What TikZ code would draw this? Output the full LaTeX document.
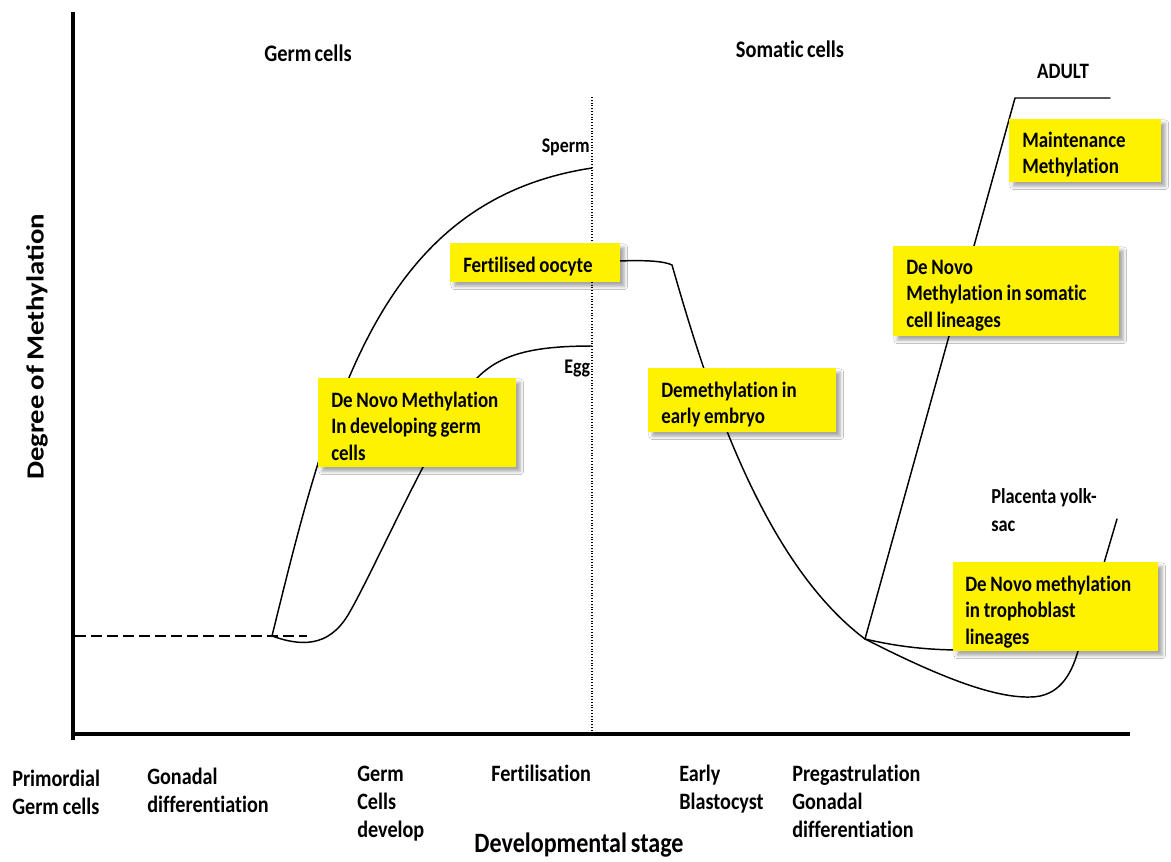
\documentclass[tikz,border=0pt]{standalone}
\usepackage{fontspec}
\setmainfont{Carlito}[FakeStretch=0.86, WordSpace=0.72, Ligatures={NoCommon}]
\newfontfamily\yfam{Carlito}[WordSpace=0.8]
\usetikzlibrary{shadows.blur}
\tikzset{
  curve/.style={line width=1.1pt, line cap=round, line join=round},
  axisline/.style={line width=2.3pt},
  ybox/.style={fill=yellow, draw=none, inner sep=0pt, anchor=north west,
    blur shadow={shadow xshift=3pt, shadow yshift=-3pt, shadow blur radius=2.5pt, shadow opacity=35}},
  tightsp/.style={execute at begin node={\spaceskip=0.17em\relax}},
  lab/.style={anchor=base west, inner sep=0pt, align=left, text width=200pt, tightsp,
    font=\fontsize{17.6}{21}\selectfont\bfseries},
  boxtxt/.style={anchor=base west, inner sep=0pt, align=left, text width=200pt, tightsp,
    font=\fontsize{16.5}{20}\selectfont\bfseries},
  toplab/.style={anchor=base, inner sep=0pt, font=\fontsize{17.8}{21}\selectfont\bfseries},
  smalllab/.style={inner sep=0pt, font=\fontsize{15.6}{19}\selectfont\bfseries},
}
\begin{document}
\begin{tikzpicture}[x=0.75pt, y=-0.75pt]
\fill[white] (0,0) rectangle (1171,861);
\useasboundingbox (0,0) rectangle (1171,861);

% axes
\coordinate (ytop) at (73,12);
\coordinate (ybot) at (73,740);
\coordinate (xl) at (72,734);
\coordinate (xr) at (1130,734);
\draw[axisline] (ytop) -- (ybot);
\draw[axisline] (xl) -- (xr);

% dashed baseline
\coordinate (dl) at (75,636);
\coordinate (dr) at (307,636);
\draw[line width=1pt, dash pattern=on 8pt off 4pt] (dl) -- (dr);

% dotted fertilisation line
\coordinate (ft) at (592,97);
\coordinate (fb) at (592,734);
\draw[line width=0.9pt, dash pattern=on 0.8pt off 1.3pt] (ft) -- (fb);

% germ cell curves
\coordinate (o) at (272,636);
\coordinate (sp) at (592,168);
\coordinate (eg) at (592,346);
\draw[curve] (o) .. controls (330,400) and (380,200) .. (sp);
\draw[curve] (o) .. controls (300,646) and (328,648) .. (348,615)
  .. controls (372,575) and (440,420) .. (477,378)
  .. controls (500,355) and (530,346) .. (eg);

% somatic curves
\coordinate (fo) at (619,261);
\coordinate (k) at (672,265);
\coordinate (p) at (865,639);
\coordinate (ad) at (1015,98);
\coordinate (ade) at (1110,98);
\coordinate (pl) at (1117,519);
\coordinate (tr) at (962,650);
\draw[curve] (fo) .. controls (645,260) and (664,261) .. (k)
  .. controls (705,380) and (760,560) .. (p)
  .. controls (930,672) and (990,698) .. (1030,697)
  .. controls (1058,697) and (1071,676) .. (1078,651) -- (pl);
\draw[curve] (p) .. controls (895,646) and (925,650) .. (tr);
\draw[curve] (p) -- (ad) -- (ade);

% yellow boxes
\node[ybox, minimum width=148.5pt, minimum height=66.75pt] (b1) at (318,378) {};
\node[boxtxt] (t1) at (331,407) {De Novo Methylation\\In developing germ\\cells};
\node[ybox, minimum width=127.5pt, minimum height=29.25pt] (b2) at (450,243) {};
\node[boxtxt] (t2) at (463,272) {Fertilised oocyte};
\node[ybox, minimum width=141pt, minimum height=48pt] (b3) at (648,368) {};
\node[boxtxt] (t3) at (661,397) {Demethylation in\\early embryo};
\node[ybox, minimum width=114pt, minimum height=47.25pt] (b4) at (1009,119) {};
\node[boxtxt] (t4) at (1022,147) {Maintenance\\Methylation};
\node[ybox, minimum width=169.5pt, minimum height=67.5pt] (b5) at (893,246) {};
\node[boxtxt] (t5) at (906,274) {De Novo\\Methylation in somatic\\cell lineages};
\node[ybox, minimum width=153.75pt, minimum height=66.75pt] (b6) at (953,562) {};
\node[boxtxt] (t6) at (965,591) {De Novo methylation\\in trophoblast\\lineages};

% top labels
\node[toplab] (gc) at (308,61) {Germ cells};
\node[toplab] (sc) at (790,57) {Somatic cells};
\node[toplab, font=\fontsize{16.5}{20}\selectfont\bfseries] (adult) at (1063,78) {ADULT};
\node[smalllab, anchor=base east] (sperm) at (590,152) {Sperm};
\node[smalllab, anchor=base west] (egg) at (564,373) {Egg};
\node[lab, font=\fontsize{16}{21}\selectfont\bfseries] (plac) at (991,503) {Placenta yolk-\\sac};

% stage labels
\node[lab] (s1) at (12,786) {Primordial\\Germ cells};
\node[lab] (s2) at (147,784) {Gonadal\\differentiation};
\node[lab] (s3) at (357,781) {Germ\\Cells\\develop};
\node[lab] (s4) at (491,781) {Fertilisation};
\node[lab] (s5) at (679,781) {Early\\Blastocyst};
\node[lab] (s6) at (792,781) {Pregastrulation\\Gonadal\\differentiation};

% axis titles
\node[anchor=base, inner sep=0pt, font=\fontsize{21}{24}\selectfont\bfseries] (xt) at (579,852) {Developmental stage};
\node[inner sep=0pt] (yt) at (37,347) {\scalebox{0.86}[1]{\rotatebox{90}{\yfam\bfseries\fontsize{21.5}{24}\selectfont Degree of Methylation}}};
\end{tikzpicture}
\end{document}
